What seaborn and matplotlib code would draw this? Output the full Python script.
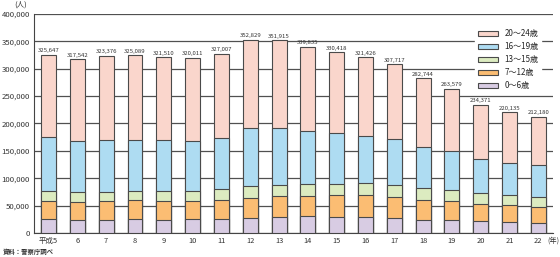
import numpy as np
import pandas as pd
import seaborn as sns
import matplotlib
matplotlib.use("Agg")
import matplotlib.pyplot as plt
from matplotlib.patches import Patch

sns.set_style("white")
plt.rcParams["font.family"] = ["Noto Sans CJK JP", "DejaVu Sans"]

# 年（平成）
years = ["平成5", "6", "7", "8", "9", "10", "11", "12", "13",
         "14", "15", "16", "17", "18", "19", "20", "21", "22"]
totals = [325647, 317542, 323376, 325089, 321510, 320011, 327007, 352829, 351915,
          339835, 330418, 321426, 307717, 282744, 263579, 234371, 220135, 212180]
# 年齢層別（読み取り値）
age_0_6 = [26200, 24400, 24400, 25600, 24400, 26200, 26200, 27400, 28700,
           30500, 28700, 28700, 27400, 24400, 23200, 21300, 19500, 17700]
age_7_12 = [31700, 31700, 33500, 34200, 33500, 31700, 34800, 36600, 38400,
            36600, 40200, 40200, 37800, 36600, 34700, 31700, 31100, 29300]
age_13_15 = [18300, 18300, 16500, 17600, 19500, 18300, 19500, 21400, 21300,
             23100, 21300, 22600, 23200, 21300, 21400, 20200, 18300, 19500]
age_16_19 = [99400, 93900, 95700, 92700, 92700, 92100, 93900, 105700, 103200,
             95800, 92700, 86500, 84200, 75000, 71300, 62200, 59100, 57300]

labels = ["0～6歳", "7～12歳", "13～15歳", "16～19歳", "20～24歳"]
colors = ["#d8cce3", "#fbbd73", "#dcebc0", "#aedcf2", "#fad6cc"]

df = pd.DataFrame({"年": years, "0～6歳": age_0_6, "7～12歳": age_7_12,
                   "13～15歳": age_13_15, "16～19歳": age_16_19})
df["20～24歳"] = np.array(totals) - df[labels[:4]].sum(axis=1)

# 累積（上から重ねて描く）
cum = df[labels].cumsum(axis=1)

fig = plt.figure(figsize=(5.6, 2.57), dpi=100)
ax = fig.add_axes([0.061, 0.093, 0.926, 0.853])

for lab, col in zip(labels[::-1], colors[::-1]):
    sns.barplot(x=df["年"], y=cum[lab], color=col, saturation=1, width=0.52,
                edgecolor="#4a4a4a", linewidth=0.8, ax=ax, zorder=3)

ax.bar_label(ax.containers[0], labels=[f"{v:,}" for v in totals],
             padding=1, fontsize=4.3, color="#333333")

ax.set_ylim(0, 400000)
ax.set_xlim(-0.5, 17.5)
ax.set_yticks(np.arange(0, 400001, 50000))
ax.set_yticklabels([f"{v:,}" for v in range(0, 400001, 50000)], fontsize=5.6, color="#333333")
ax.set_xticks(range(len(years)))
ax.set_xticklabels(years, fontsize=5.4, color="#333333")
ax.set_xticks(np.arange(0.5, 17, 1), minor=True)
ax.tick_params(axis="both", which="major", length=0, pad=3)
ax.tick_params(axis="x", which="minor", direction="in", length=3, width=0.8, color="#333333")
ax.set_xlabel("")
ax.set_ylabel("")
ax.yaxis.grid(True, color="#505050", linewidth=0.9, zorder=0)
ax.set_axisbelow(True)
for s in ["top", "right"]:
    ax.spines[s].set_visible(False)
for s in ["left", "bottom"]:
    ax.spines[s].set_color("#444444")
    ax.spines[s].set_linewidth(0.8)

handles = [Patch(facecolor=c, edgecolor="#4a4a4a", linewidth=0.8) for c in colors[::-1]]
leg = ax.legend(handles, labels[::-1], loc="upper right", bbox_to_anchor=(0.985, 0.96),
                fontsize=5.8, frameon=True, framealpha=1, edgecolor="white",
                handlelength=2.5, handleheight=0.6, handletextpad=0.8,
                labelspacing=0.5, borderpad=0.3, fancybox=False)
leg.set_zorder(5)

fig.text(0.036, 0.984, "(人)", fontsize=5.4, ha="center", va="center", color="#333333")
fig.text(0.998, 0.064, "(年)", fontsize=5.2, ha="right", va="center", color="#333333")
fig.text(0.005, 0.02, "資料：警察庁調べ", fontsize=4.6, ha="left", va="center",
         color="#333333", fontweight="bold")

fig.savefig("out.png", dpi=100)
